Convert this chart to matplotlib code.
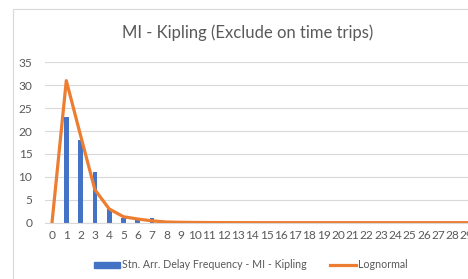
import numpy as np
import matplotlib.pyplot as plt
from matplotlib.patches import Rectangle, Patch
from matplotlib.lines import Line2D

plt.rcParams['font.family'] = ['Lato', 'DejaVu Sans']

# delay in minutes (categories 0..29)
delay = list(range(30))
freq = [0, 23, 18, 11, 3, 1, 1, 1] + [0] * 22
lognormal = [0, 31, 19, 7.2, 3.0, 1.3, 0.8, 0.4, 0.15, 0.08, 0.05, 0.03, 0.02, 0.01] + [0.005] * 16

yticks = [0, 5, 10, 15, 20, 25, 30, 35]

txt = '#595959'
grid = '#D9D9D9'
blue = '#4472C4'
orange = '#ED7D31'

W, H = 468, 279
fig = plt.figure(figsize=(W / 100, H / 100), dpi=100)

# chart border (cut off at right and bottom like the screenshot)
fig.patches.append(Rectangle((13 / W, -0.1), 1.2, 1 - 9 / H + 0.1, transform=fig.transFigure,
                             fill=False, edgecolor=grid, linewidth=0.8))

ax = fig.add_axes([44.85 / W, 56.3 / H, 429 / W, 160.4 / H])
x = np.arange(len(delay))
ax.bar(x, freq, width=0.33, color=blue, zorder=2)
ax.plot(x, lognormal, color=orange, linewidth=2.3, solid_joinstyle='round', zorder=3)

ax.set_xlim(-0.5, len(delay) - 0.5)
ax.set_ylim(0, 35)
ax.set_yticks(yticks)
ax.set_xticks(x)
ax.set_xticklabels([str(d) for d in delay])
ax.grid(axis='y', color=grid, linewidth=0.8, zorder=0)
for s in ['top', 'right', 'left']:
    ax.spines[s].set_visible(False)
ax.spines['bottom'].set_color(grid)
ax.spines['bottom'].set_linewidth(0.8)
ax.tick_params(length=0, labelsize=8.6, colors=txt)
ax.tick_params(axis='x', pad=5)
ax.tick_params(axis='y', pad=9)

fig.text(248 / W, 1 - 33 / H, 'MI - Kipling (Exclude on time trips)', ha='center', va='center',
         fontsize=12, color=txt)

handles = [Patch(color=blue), Line2D([0], [0], color=orange, linewidth=2.3)]
labels = ['Stn. Arr. Delay Frequency - MI - Kipling', 'Lognormal']
fig.legend(handles, labels, loc='center', bbox_to_anchor=(251 / W, 14 / H), ncol=2, frameon=False,
           fontsize=7.7, labelcolor=txt, handlelength=2.4, handleheight=0.5, handletextpad=0.2,
           columnspacing=2.2)

fig.savefig('out.png', dpi=100)
